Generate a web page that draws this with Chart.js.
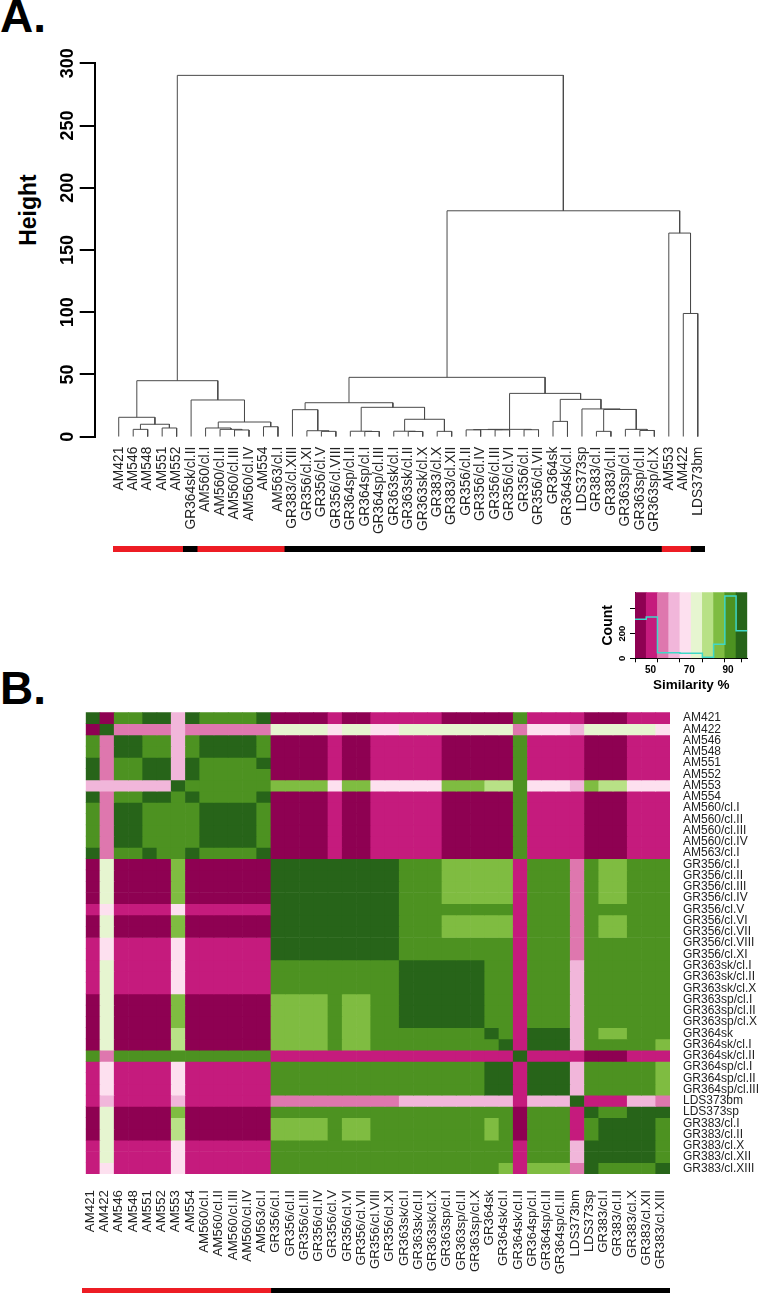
<!DOCTYPE html>
<html>
<head>
<meta charset="utf-8">
<title>Similarity clustering</title>
<script src="https://cdn.jsdelivr.net/npm/chart.js@4/dist/chart.umd.min.js"></script>
<style>
    html, body { margin: 0; padding: 0; background: #fff; }
    #page { position: relative; width: 764px; height: 1293px; overflow: hidden; font-family: "Liberation Sans", Arial, sans-serif; }
    canvas { position: absolute; }
    .panel { position: absolute; left: 0; font-weight: bold; font-size: 46px; line-height: 46px; color: #000; }
    #heightTitle { position: absolute; left: 28px; top: 210px; font-weight: bold; font-size: 23px; line-height: 23px; transform: translate(-50%, -50%) rotate(-90deg); color: #000; }
</style>
</head>
<body>
<div id="page">
    <div class="panel" style="top:-7px">A.</div>
    <div class="panel" style="top:665px">B.</div>
    <div id="heightTitle">Height</div>
    <canvas id="dendrogram"></canvas>
    <canvas id="dendroStrip"></canvas>
    <canvas id="colorKey"></canvas>
    <canvas id="heatmap"></canvas>
    <canvas id="heatStrip"></canvas>
</div>
<script>
// Dendrogram leaves, left to right
const leaves = ['AM421', 'AM546', 'AM548', 'AM551', 'AM552', 'GR364sk/cl.II', 'AM560/cl.I', 'AM560/cl.II', 'AM560/cl.III', 'AM560/cl.IV', 'AM554', 'AM563/cl.I', 'GR383/cl.XIII', 'GR356/cl.XI', 'GR356/cl.V', 'GR356/cl.VIII', 'GR364sp/cl.II', 'GR364sp/cl.I', 'GR364sp/cl.III', 'GR363sk/cl.I', 'GR363sk/cl.II', 'GR363sk/cl.X', 'GR383/cl.X', 'GR383/cl.XII', 'GR356/cl.II', 'GR356/cl.IV', 'GR356/cl.III', 'GR356/cl.VI', 'GR356/cl.I', 'GR356/cl.VII', 'GR364sk', 'GR364sk/cl.I', 'LDS373sp', 'GR383/cl.I', 'GR383/cl.II', 'GR363sp/cl.I', 'GR363sp/cl.II', 'GR363sp/cl.X', 'AM553', 'AM422', 'LDS373bm'];

// hclust style merges: negative = leaf number, positive = earlier merge number
const mergeLeft = [-2, -4, 1, -1, -9, -8, -7, -11, 7, -6, 4, -15, -14, -13, -18, -17, -21, -20, -23, 18, 16, 14, -25, -27, 23, -29, 25, -31, -34, -37, -36, 29, -33, 28, 27, 22, -40, -39, 36, 11];
const mergeRight = [-3, -5, 2, 3, -10, 5, 6, -12, 8, 9, 10, -16, 12, 13, -19, 15, -22, 17, -24, 19, 20, 21, -26, -28, 24, -30, 26, -32, -35, -38, 30, 31, 32, 33, 34, 35, -41, 37, 38, 39];
const mergeHeight = [5.9, 7, 10, 15.6, 5.4, 5.9, 7, 8, 11.8, 29.5, 45, 4.3, 4.8, 21.7, 4.2, 4.4, 4.2, 4.4, 4.3, 14, 23.6, 27.3, 5.5, 5.5, 5.7, 5.6, 5.9, 12.3, 4.3, 5, 5.9, 21.9, 22.3, 30, 34.8, 47.7, 99, 163.6, 181.5, 290.3];
const heightTicks = [0, 50, 100, 150, 200, 250, 300];

// Heatmap order
const samples = ['AM421', 'AM422', 'AM546', 'AM548', 'AM551', 'AM552', 'AM553', 'AM554', 'AM560/cl.I', 'AM560/cl.II', 'AM560/cl.III', 'AM560/cl.IV', 'AM563/cl.I', 'GR356/cl.I', 'GR356/cl.II', 'GR356/cl.III', 'GR356/cl.IV', 'GR356/cl.V', 'GR356/cl.VI', 'GR356/cl.VII', 'GR356/cl.VIII', 'GR356/cl.XI', 'GR363sk/cl.I', 'GR363sk/cl.II', 'GR363sk/cl.X', 'GR363sp/cl.I', 'GR363sp/cl.II', 'GR363sp/cl.X', 'GR364sk', 'GR364sk/cl.I', 'GR364sk/cl.II', 'GR364sp/cl.I', 'GR364sp/cl.II', 'GR364sp/cl.III', 'LDS373bm', 'LDS373sp', 'GR383/cl.I', 'GR383/cl.II', 'GR383/cl.X', 'GR383/cl.XII', 'GR383/cl.XIII'];

// Similarity band of each cell (0 = lowest, 9 = highest), one string per row
const similarityBands = [
    '90889939888890000100111110000081111000111',
    '09222232222225555455445555555524443555554',
    '82998838999980000100111110000081111000111',
    '82998838999980000100111110000081111000111',
    '92889939888890000100111110000081111000111',
    '92889939888880000100111110000081111000111',
    '33333398888887777477444447776684443766444',
    '92889989888890000100111110000081111000111',
    '82998888999980000100111110000081111000111',
    '82998888999980000100111110000081111000111',
    '82998888999980000100111110000081111000111',
    '82998888999980000100111110000081111000111',
    '92889889888890000100111110000081111000111',
    '05000070000009999999998887777718882877888',
    '05000070000009999999998887777718882877888',
    '05000070000009999999998887777718882877888',
    '05000070000009999999998887777718882877888',
    '14111141111119999999998888888818882888888',
    '05000070000009999999998887777718882877888',
    '05000070000009999999998887777718882877888',
    '14111141111119999999998888888818882888888',
    '14111141111119999999998888888818882888888',
    '15111141111118888888889999998818883888888',
    '15111141111118888888889999998818883888888',
    '15111141111118888888889999998818883888888',
    '05000070000007777877889999998818883888888',
    '05000070000007777877889999998818883888888',
    '05000070000007777877889999998818883888888',
    '05000060000007777877888888889819993877888',
    '05000060000007777877888888888919993888887',
    '82888888888881111111111111111191111000111',
    '14111141111118888888888888889919993888887',
    '14111141111118888888888888889919993888887',
    '14111141111118888888888888889919993888887',
    '13111131111112222222223333333313339111332',
    '05000070000008888888888888888808881988999',
    '05000060000007777877888888887808881899998',
    '05000060000007777877888888887808881899998',
    '15111141111118888888888888888818883999998',
    '15111141111118888888888888888818883999998',
    '14111141111118888888888888888717772988889'
];

// Colour key
const bandColors = ['#8e0152', '#c51b7d', '#de77ae', '#f1b6da', '#fde0ef', '#e6f5d0', '#b8e186', '#7fbc41', '#4d9221', '#276419'];
const bandEdges = [42, 47.8, 53.6, 59.4, 65.2, 71, 76.8, 82.6, 88.4, 94.2, 100];
const bandCounts = [316, 335, 46, 46, 40, 40, 8, 113, 505, 224];
const countTicks = [0, 100, 200, 300, 400, 500];
const countLabels = [0, 200, 500];
const keyTickMarks = [47.8, 59.4, 71, 82.6, 94.2, 100];
const keyLabels = [50, 70, 90];
const countMax = 535;

const fontFamily = '"Liberation Sans", Arial, sans-serif';
Chart.defaults.font.family = fontFamily;
Chart.defaults.animation = false;
Chart.defaults.responsive = false;
Chart.defaults.plugins.legend.display = false;
Chart.defaults.plugins.tooltip.enabled = false;

function place(id, left, top, width, height) {
    const canvas = document.getElementById(id);
    canvas.style.left = left + 'px';
    canvas.style.top = top + 'px';
    canvas.width = width;
    canvas.height = height;
    return canvas;
}

// Line segments of the tree, built from the merges
function dendrogramSegments() {
    const nodes = [];
    const node = (ref) => ref < 0 ? { x: -ref - 1, h: 0 } : nodes[ref - 1];
    const points = [];
    mergeHeight.forEach((h, i) => {
        const l = node(mergeLeft[i]);
        const r = node(mergeRight[i]);
        points.push({ x: l.x, y: l.h }, { x: l.x, y: h }, { x: r.x, y: h }, { x: r.x, y: r.h }, { x: l.x, y: NaN });
        nodes.push({ x: (l.x + r.x) / 2, h: h });
    });
    return points;
}

new Chart(place('dendrogram', 0, 0, 764, 545), {
    type: 'scatter',
    data: {
        datasets: [{
            data: dendrogramSegments(),
            showLine: true,
            spanGaps: false,
            borderColor: '#4a4a4a',
            borderWidth: 1,
            pointRadius: 0
        }]
    },
    options: {
        layout: { autoPadding: false, padding: { top: 63.3, right: 59 } },
        scales: {
            x: {
                type: 'linear',
                min: -1.66,
                max: 40.5,
                grid: { display: false },
                border: { display: false },
                afterBuildTicks: (scale) => { scale.ticks = leaves.map((_, i) => ({ value: i })); },
                afterFit: (scale) => { scale.height = 545 - 436.7; },
                ticks: {
                    autoSkip: false,
                    minRotation: 90,
                    maxRotation: 90,
                    padding: 2,
                    color: '#222',
                    font: { size: 13.8 },
                    callback: (value) => leaves[value]
                }
            },
            y: {
                min: 0,
                max: 300,
                afterBuildTicks: (scale) => { scale.ticks = heightTicks.map(v => ({ value: v })); },
                afterFit: (scale) => { scale.width = 94.7; },
                grid: { drawOnChartArea: false, color: '#000', lineWidth: 2, tickLength: 15 },
                border: { color: '#000', width: 2 },
                ticks: {
                    minRotation: 90,
                    maxRotation: 90,
                    crossAlign: 'center',
                    padding: -3,
                    color: '#000',
                    font: { size: 18, weight: 'bold' }
                }
            }
        }
    }
});

// Thin red / black strip: red for AM samples
function sampleStrip(id, labels, left, top, width, height, xMin) {
    const datasets = [];
    labels.forEach((label, i) => {
        const color = label.startsWith('AM') ? '#ed1c24' : '#000';
        const last = datasets[datasets.length - 1];
        if (last && last.backgroundColor === color) {
            last.data[0][1] = i + 1;
        } else {
            datasets.push({ data: [[i === 0 ? Math.min(0, xMin) : i, i + 1]], backgroundColor: color, grouped: false, barPercentage: 1, categoryPercentage: 1 });
        }
    });
    new Chart(place(id, left, top, width, height), {
        type: 'bar',
        data: { labels: [''], datasets: datasets },
        options: {
            indexAxis: 'y',
            layout: { autoPadding: false },
            scales: {
                x: { type: 'linear', min: xMin, max: labels.length, display: false },
                y: { display: false }
            }
        }
    });
}
sampleStrip('dendroStrip', leaves, 112.7, 546, 592, 6, 0.2);
sampleStrip('heatStrip', samples, 82, 1288, 588, 5, -0.24);

// Colour key with the count histogram on top
const bandMiddles = bandColors.map((_, i) => (bandEdges[i] + bandEdges[i + 1]) / 2);
new Chart(place('colorKey', 590, 580, 174, 115), {
    data: {
        datasets: [{
            type: 'line',
            data: bandEdges.map((x, i) => ({ x: x, y: bandCounts[Math.min(i, bandCounts.length - 1)] })),
            stepped: 'before',
            borderColor: '#3fd8c8',
            borderWidth: 1.5,
            pointRadius: 0,
            order: 0
        }, {
            type: 'bar',
            data: bandMiddles.map(x => ({ x: x, y: countMax })),
            backgroundColor: bandColors,
            barPercentage: 1,
            categoryPercentage: 1,
            order: 1
        }]
    },
    options: {
        layout: { autoPadding: false, padding: { top: 12.3, right: 16.7 } },
        scales: {
            x: {
                type: 'linear',
                min: 42,
                max: 100,
                offset: false,
                afterBuildTicks: (scale) => { scale.ticks = keyTickMarks.map(v => ({ value: v })); },
                afterFit: (scale) => { scale.height = 5; },
                grid: { drawOnChartArea: false, color: '#000', tickLength: 4 },
                border: { color: '#000' },
                ticks: { display: false }
            },
            x2: {
                type: 'linear',
                position: 'bottom',
                axis: 'x',
                min: 42,
                max: 100,
                afterBuildTicks: (scale) => { scale.ticks = keyLabels.map(v => ({ value: v })); },
                afterFit: (scale) => { scale.height = 31.7; },
                grid: { display: false },
                border: { display: false },
                ticks: { padding: -7, color: '#000', font: { size: 10, weight: 'bold' } },
                title: { display: true, text: 'Similarity %', color: '#000', font: { size: 13.5, weight: 'bold' }, padding: { top: 3, bottom: 2 } }
            },
            y: {
                min: 0,
                max: countMax,
                afterBuildTicks: (scale) => { scale.ticks = countTicks.map(v => ({ value: v })); },
                afterFit: (scale) => { scale.width = 45; },
                grid: { drawOnChartArea: false, color: '#000', tickLength: 5 },
                border: { color: '#000' },
                ticks: {
                    minRotation: 90,
                    maxRotation: 90,
                    crossAlign: 'center',
                    padding: 0,
                    color: '#000',
                    font: { size: 9.5, weight: 'bold' },
                    callback: (value) => countLabels.includes(value) ? String(value) : ''
                },
                title: { display: true, text: 'Count', color: '#000', font: { size: 14, weight: 'bold' }, padding: { top: 10, bottom: 0 } }
            }
        }
    }
});

// Heatmap: every row is a dataset of floating bars, one per column
const heatDatasets = similarityBands.map((row, r) => ({
    data: samples.map((_, c) => ({ x: c + 0.5, y: [r, r + 1] })),
    backgroundColor: samples.map((_, c) => bandColors[Number(row[c])]),
    borderWidth: 0,
    grouped: false,
    barPercentage: 1,
    categoryPercentage: 1
}));

new Chart(place('heatmap', 0, 660, 764, 625), {
    type: 'bar',
    data: { datasets: heatDatasets },
    options: {
        layout: { autoPadding: false, padding: { top: 52.3, left: 85.7 } },
        scales: {
            x: {
                type: 'linear',
                min: 0,
                max: samples.length,
                offset: false,
                grid: { display: false },
                border: { display: false },
                afterBuildTicks: (scale) => { scale.ticks = samples.map((_, i) => ({ value: i + 0.5 })); },
                afterFit: (scale) => { scale.height = 111; },
                ticks: {
                    autoSkip: false,
                    minRotation: 90,
                    maxRotation: 90,
                    padding: 8,
                    labelOffset: -2.5,
                    color: '#222',
                    font: { size: 13.3 },
                    callback: (value) => samples[Math.floor(value)]
                }
            },
            y: {
                position: 'right',
                reverse: true,
                min: 0,
                max: samples.length,
                grid: { display: false },
                border: { display: false },
                afterBuildTicks: (scale) => { scale.ticks = samples.map((_, i) => ({ value: i + 0.5 })); },
                afterFit: (scale) => { scale.width = 94; },
                ticks: {
                    autoSkip: false,
                    padding: 5,
                    color: '#222',
                    font: { size: 12 },
                    callback: (value) => samples[Math.floor(value)]
                }
            }
        }
    }
});
</script>
</body>
</html>
